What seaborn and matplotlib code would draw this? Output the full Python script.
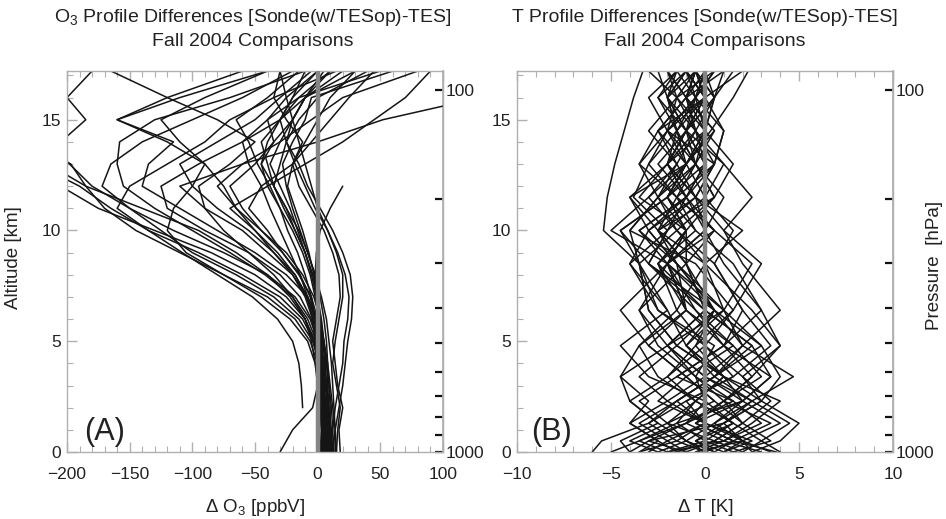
import numpy as np
import pandas as pd
import matplotlib
matplotlib.use("Agg")
import matplotlib.pyplot as plt
import seaborn as sns
from matplotlib.ticker import MultipleLocator, FixedLocator, NullFormatter

nan = np.nan

# ---------------- data: ozone difference profiles (ppbV) ----------------
O3_LEVELS = [0, 1, 2, 3, 4, 5, 6, 7, 8, 9, 10, 11, 12, 13, 14, 15, 16, 17.2]

O3_A1 = [10, 9, 8, 6, 3, -2, -10, -25, -50, -85, -130, -175, -205, nan, nan, nan, nan, nan]
O3_A2 = [6, 7, 5, 4, 2, -3, -12, -30, -60, -95, -135, -165, -190, -225, nan, nan, nan, nan]
O3_A3 = [4, 5, 4, 2, 0, -6, -18, -40, -75, -110, -145, -170, -185, -197, -230, nan, nan, nan]
O3_A4 = [12, 11, 9, 7, 4, 0, -6, -18, -40, -75, -115, -150, -180, -198, -215, nan, nan, nan]
O3_B1 = [5, 6, 5, 3, 1, -4, -15, -35, -65, -100, -125, -150, -172, -165, -140, -100, -60, -20]
O3_B2 = [8, 8, 7, 5, 3, -1, -8, -20, -42, -70, -100, -130, -155, -160, -158, -130, -70, -10]
O3_B3 = [3, 4, 3, 1, -2, -8, -22, -45, -75, -105, -120, -115, -100, -90, -120, -160, -120, -60]
O3_B4 = [15, 14, 12, 10, 8, 5, 0, -8, -25, -50, -80, -110, -140, -135, -115, -160, -110, -40]
O3_B5 = [7, 7, 6, 5, 3, 0, -5, -14, -30, -55, -90, -120, -125, -95, -60, -30, -10, 10]
O3_B6 = [9, 8, 6, 4, 1, -3, -10, -22, -40, -65, -95, -140, -185, -215, -205, -185, -200, -180]
O3_C1 = [9, 9, 8, 7, 5, 2, -2, -8, -18, -35, -55, -80, -100, -110, -80, -50, -30, -5]
O3_C2 = [4, 4, 3, 2, 1, -1, -4, -10, -20, -35, -50, -65, -75, -90, -110, -125, -90, -40]
O3_C3 = [11, 10, 10, 9, 7, 5, 2, -3, -12, -25, -45, -65, -80, -60, -30, -20, -10, 30]
O3_C4 = [2, 3, 2, 0, -2, -5, -10, -20, -35, -55, -75, -90, -95, -70, -50, -80, -120, -165]
O3_C5 = [6, 6, 5, 4, 3, 1, -2, -6, -14, -28, -45, -60, -70, -50, -35, -40, -25, 0]
O3_C6 = [13, 12, 11, 9, 7, 4, 0, -5, -15, -28, -40, -55, -45, -20, -5, 10, 25, 45]
O3_D1 = [5, 6, 6, 5, 4, 3, 1, -2, -6, -12, -20, -30, -40, -45, -35, -20, -10, 20]
O3_D2 = [10, 10, 9, 8, 8, 7, 5, 2, -2, -8, -15, -25, -35, -30, -25, -15, 0, 40]
O3_D3 = [0, 1, 1, 0, -1, -2, -4, -8, -14, -22, -30, -38, -45, -55, -60, -40, -15, 10]
O3_D4 = [14, 14, 13, 12, 11, 9, 7, 3, -2, -8, -14, -20, -25, -28, -20, -10, -5, 60]
O3_D5 = [7, 8, 8, 7, 6, 5, 3, 0, -4, -10, -16, -22, -30, -38, -30, -5, 20, 80]
O3_D6 = [3, 3, 2, 2, 1, 0, -2, -5, -10, -16, -24, -30, -38, -48, -55, -65, -40, -15]
O3_D7 = [9, 9, 8, 7, 6, 4, 2, -1, -5, -10, -18, -27, -35, -40, -45, -30, -20, -10]
O3_D8 = [6, 5, 5, 4, 4, 3, 2, 0, -3, -7, -12, -18, -24, -20, -12, -25, -35, -30]
O3_E1 = [12, 14, 17, 20, 22, 24, 27, 28, 26, 20, 12, 2, -8, -15, -25, -20, -10, 5]
O3_E2 = [10, 12, 14, 17, 20, 21, 24, 25, 22, 16, 8, 0, -5, -10, -15, -20, -25, -30]
O3_E3 = [18, 17, 20, 16, 14, 12, 15, 18, 17, 12, 5, -5, -15, -20, -10, 0, 10, 30]
O3_E4 = [15, 16, 18, 15, 12, 14, 17, 20, 20, 15, 8, -2, -10, -18, -25, -30, -15, 50]
O3_S1 = [6, 7, 6, 5, 4, 2, -1, -8, -20, -40, -60, -90, -110, -60, 0, 52, 130, nan]
O3_S2 = [8, 9, 8, 7, 5, 3, 1, -1, -2, -1, 2, 10, 20, nan, nan, nan, nan, nan]
O3_S3 = [-30, -20, -4, 0, 2, 3, 2, 0, -4, -10, -18, -25, -35, -45, -40, -30, -20, 0]
O3_S4 = [nan, nan, -12, -13, -15, -20, -32, -52, -80, -108, -135, -160, -150, -120, -90, -70, -35, 15]
O3_S5 = [5, 5, 4, 3, 2, 0, -3, -9, -18, -32, -50, -70, -40, -10, 20, 45, 70, 90]

O3_PROFILES = [O3_A1, O3_A2, O3_A3, O3_A4, O3_B1, O3_B2, O3_B3, O3_B4, O3_B5, O3_B6,
               O3_C1, O3_C2, O3_C3, O3_C4, O3_C5, O3_C6, O3_D1, O3_D2, O3_D3, O3_D4,
               O3_D5, O3_D6, O3_D7, O3_D8, O3_E1, O3_E2, O3_E3, O3_E4,
               O3_S1, O3_S2, O3_S3, O3_S4, O3_S5]

# ---------------- data: temperature difference profiles (K) ----------------
T_LEVELS = [0, 0.5, 1.3, 2.3, 3.4, 4.8, 6.4, 8.5, 10.0, 11.5, 13.0, 14.5, 16.0, 17.2]

T_01 = [-1.0, 0.5, 2.0, 1.0, 3.0, 1.5, -1.0, -2.5, -1.0, -2.0, -0.5, -1.5, -0.5, 0.0]
T_02 = [-6.0, -5.5, -3.0, -1.5, 0.5, 2.0, 0.5, -2.0, -3.5, -1.0, -2.0, -1.0, -0.5, -1.0]
T_03 = [2.5, 4.0, 5.0, 3.0, 1.0, -1.0, 0.5, -3.0, -4.5, -2.0, -1.0, 0.0, -1.5, -0.5]
T_04 = [0.5, -1.0, -2.5, -4.0, -4.5, -3.5, -1.0, -2.0, -5.0, -3.0, -1.0, -2.5, -1.0, -2.0]
T_05 = [-4.0, -3.0, 1.0, 2.5, 4.7, 2.0, 1.0, -1.5, -2.5, 0.5, -0.5, -1.0, 0.0, -0.5]
T_06 = [3.5, 2.0, 0.0, -1.0, 1.5, 3.5, 2.0, 0.5, 1.5, 0.0, 1.0, -0.5, 0.5, 1.5]
T_07 = [-2.5, -4.0, -2.0, 0.5, -1.0, -3.0, -4.5, -2.0, -1.0, -3.5, -2.0, -1.0, -2.5, -1.0]
T_08 = [1.0, 2.0, 0.5, 2.5, 0.0, -2.0, 1.0, 2.5, 0.5, -1.0, 0.5, -2.0, -0.5, 0.5]
T_09 = [-3.5, -1.5, 0.0, -2.5, -1.0, 1.5, -0.5, -3.0, -2.0, -3.8, -3.0, -2.0, -3.0, -1.5]
T_10 = [0.0, 1.5, 3.5, 1.0, 2.5, 4.0, 2.5, 0.0, -1.5, 0.5, -0.5, 0.5, -1.0, -0.5]
T_11 = [-1.5, -2.5, -4.0, -3.0, -4.5, -2.0, 0.0, -1.0, 0.5, -1.5, -3.0, -1.5, -2.0, -2.5]
T_12 = [4.0, 3.0, 1.5, 0.0, -0.5, 0.5, -2.5, -4.0, -3.0, -1.0, 0.0, -1.0, 0.5, -0.5]
T_13 = [-5.0, -3.5, -1.0, 1.0, -0.5, -2.5, -3.5, -1.0, -2.5, -0.5, -1.5, -3.0, -1.5, -2.0]
T_14 = [1.5, 0.0, -1.5, 2.0, 3.5, 1.0, 3.0, 1.5, -0.5, -2.0, -1.0, 0.5, -1.0, 0.0]
T_15 = [-2.0, 0.0, 1.5, -0.5, -2.0, 0.0, 1.5, -0.5, -4.0, -2.5, -3.5, -2.0, -0.5, -1.5]
T_16 = [2.0, 3.0, 4.5, 2.5, 0.5, 3.0, 1.0, -2.0, 0.0, 1.0, -0.5, -1.5, -2.0, -1.0]
T_17 = [-3.0, -2.0, -3.5, -1.5, 0.5, -1.0, -2.0, -3.5, -1.5, -2.5, -0.5, 0.0, -1.0, -2.0]
T_18 = [0.5, -0.5, 1.0, 3.0, 2.0, 0.0, -1.5, 0.0, 2.0, -0.5, -2.0, -1.0, 0.5, 0.0]
T_19 = [-1.0, -3.0, -1.0, 0.0, -3.0, -4.5, -2.0, -4.0, -2.0, 0.0, -1.0, -2.0, -1.5, -3.0]
T_20 = [3.0, 1.0, 2.5, 4.0, 1.0, -0.5, 1.5, 3.0, 1.0, -0.5, 0.5, 1.0, 0.0, -0.5]
T_21 = [-4.0, -4.5, -2.5, -4.0, -2.0, -0.5, 0.5, -1.5, -3.0, -4.0, -2.0, -1.5, -2.5, -1.5]
T_22 = [1.0, 2.5, 0.0, -1.5, 0.5, 2.5, 0.0, -2.5, -1.0, -2.0, 0.0, -0.5, -1.0, 1.0]
T_23 = [-0.5, 1.0, 3.0, 1.5, -0.5, -2.0, -3.5, -2.0, 0.0, -1.0, -2.5, -1.0, -2.0, -0.5]
T_24 = [2.0, 0.5, -2.0, -3.5, -1.5, 1.0, 2.0, 0.5, -1.5, -3.0, -1.5, -2.5, 0.0, -1.0]
T_25 = [-2.5, -1.0, 0.5, 2.0, 3.5, 2.5, 0.0, -1.0, -2.5, -1.5, 0.5, -0.5, -1.5, 0.5]
T_26 = [0.0, -1.5, -3.0, -1.0, 1.5, 0.0, -2.5, -3.5, -4.5, -2.0, -1.0, -1.5, 0.0, -1.0]
T_27 = [-1.5, 0.5, 2.0, 3.5, 2.0, 4.0, 3.0, 1.0, 0.0, -0.5, -2.0, -0.5, -1.0, -0.5]
T_28 = [1.5, 3.5, 2.0, 0.5, -1.0, -3.0, -1.0, -1.5, -3.5, -1.0, -2.0, 0.0, -0.5, 0.0]
T_29 = [-3.5, -2.5, -4.0, -2.0, -3.5, -1.5, -3.0, -3.5, -5.4, -5.2, -4.8, -4.3, -3.8, -3.3]
T_30 = [0.5, 1.5, -0.5, 1.0, 2.5, 1.0, -0.5, -2.0, -1.0, 0.5, 1.5, 0.0, 0.5, 1.0]
T_31 = [-1.0, -2.0, 0.0, -2.0, 0.0, -2.0, 0.0, -3.0, -2.0, -1.0, 0.0, -1.0, -2.0, -1.0]
T_32 = [2.5, 2.0, 1.0, 3.0, 4.0, 3.0, 0.5, -1.0, -1.0, -2.5, -1.5, -0.5, -2.0, -1.5]
T_33 = [-2.0, -3.5, -1.5, -0.5, -2.5, -3.5, -1.5, -2.5, -0.5, -1.5, -3.5, -2.5, -1.0, -0.5]
T_34 = [1.0, -0.5, 1.5, -0.5, 1.0, -1.0, 1.0, 0.0, -2.5, -4.0, -1.0, 0.0, 0.5, -0.5]
T_35 = [-0.5, 2.0, 4.0, 2.0, 0.0, 2.0, 4.0, 2.0, 1.0, 2.5, 1.0, -1.0, 0.0, 2.0]
T_36 = [0.0, -1.0, -2.0, -0.5, 1.0, -1.5, -3.0, -3.5, -4.0, -2.5, -1.0, 0.3, 1.5, 2.3]
T_37 = [-2.0, 1.0, -1.0, 1.5, -1.5, 1.0, -1.0, -2.0, 0.5, -1.5, -0.5, -2.0, 0.0, -1.0]
T_38 = [3.8, 1.5, -0.5, 2.0, 1.0, -1.5, 0.5, -1.5, -3.0, -0.5, 0.5, 1.0, -0.5, 0.5]

T_PROFILES = [T_01, T_02, T_03, T_04, T_05, T_06, T_07, T_08, T_09, T_10,
              T_11, T_12, T_13, T_14, T_15, T_16, T_17, T_18, T_19, T_20,
              T_21, T_22, T_23, T_24, T_25, T_26, T_27, T_28, T_29, T_30,
              T_31, T_32, T_33, T_34, T_35, T_36, T_37, T_38]

PRESSURE_MAJOR = [100, 1000]
PRESSURE_MINOR = [200, 300, 400, 500, 600, 700, 800, 900]
SCALE_HEIGHT = 7.1


def long_frame(profiles, levels, name):
    rows = []
    for i, prof in enumerate(profiles):
        for z, v in zip(levels, prof):
            rows.append({"profile": i, "alt": z, name: v})
    return pd.DataFrame(rows).dropna()


o3_df = long_frame(O3_PROFILES, O3_LEVELS, "val")
t_df = long_frame(T_PROFILES, T_LEVELS, "val")

# ---------------- style ----------------
sns.set_theme(style="white")
plt.rcParams["font.family"] = ["Liberation Sans", "DejaVu Sans"]
plt.rcParams["mathtext.fontset"] = "custom"
plt.rcParams["mathtext.rm"] = "Liberation Sans"
plt.rcParams["mathtext.it"] = "Liberation Sans:italic"
plt.rcParams["axes.unicode_minus"] = True

TXT = "#222222"
FRAME = "#b0b0b0"
W, H = 946, 519
fig = plt.figure(figsize=(W / 100, H / 100), dpi=100)

ax1 = fig.add_axes([67 / W, 1 - 452 / H, 376 / W, 381 / H])
ax2 = fig.add_axes([517 / W, 1 - 452 / H, 376 / W, 381 / H])


def z2p(z):
    return 1000.0 * np.exp(-np.asarray(z, dtype=float) / SCALE_HEIGHT)


def p2z(p):
    p = np.clip(np.asarray(p, dtype=float), 1e-6, None)
    return SCALE_HEIGHT * np.log(1000.0 / p)


def style_axes(ax, xlim, xmajor, xminor):
    ax.set_xlim(*xlim)
    ax.set_ylim(0, 17.2)
    ax.xaxis.set_major_locator(MultipleLocator(xmajor))
    ax.xaxis.set_minor_locator(MultipleLocator(xminor))
    ax.yaxis.set_major_locator(MultipleLocator(5))
    ax.yaxis.set_minor_locator(MultipleLocator(1))
    for s in ax.spines.values():
        s.set_color(FRAME)
        s.set_linewidth(1.0)
    ax.tick_params(which="both", direction="in", color=FRAME, top=True, right=False,
                   bottom=True, left=True, labelcolor=TXT, labelsize=12.5)
    ax.tick_params(which="major", length=7, width=1.0)
    ax.tick_params(which="minor", length=4, width=0.8)
    ax.tick_params(axis="x", pad=11)
    ax.tick_params(axis="y", pad=4)
    ax.set_xlabel("")
    ax.set_ylabel("")
    sec = ax.secondary_yaxis("right", functions=(z2p, p2z))
    sec.yaxis.set_major_locator(FixedLocator(PRESSURE_MAJOR))
    sec.yaxis.set_minor_locator(FixedLocator(PRESSURE_MINOR))
    sec.yaxis.set_minor_formatter(NullFormatter())
    sec.set_yticklabels([str(v) for v in PRESSURE_MAJOR])
    sec.tick_params(which="both", direction="in", color="#111111", width=1.6,
                    length=6, labelsize=12.5, labelcolor=TXT, pad=2)
    for s in sec.spines.values():
        s.set_color(FRAME)
    return sec


sns.lineplot(data=o3_df, x="val", y="alt", units="profile", estimator=None,
             sort=False, color="#151515", lw=1.1, legend=False, ax=ax1)
sns.lineplot(data=t_df, x="val", y="alt", units="profile", estimator=None,
             sort=False, color="#151515", lw=1.1, legend=False, ax=ax2)

for ax in (ax1, ax2):
    ax.axvline(0, color="#858585", lw=3.2, zorder=5)

style_axes(ax1, (-200, 100), 50, 10)
style_axes(ax2, (-10, 10), 5, 1)

ax1.text(0.10, 0.052, "(A)", transform=ax1.transAxes, ha="center", va="center",
         fontsize=22, color=TXT, zorder=6)
ax2.text(0.093, 0.052, "(B)", transform=ax2.transAxes, ha="center", va="center",
         fontsize=22, color=TXT, zorder=6)

# titles
fig.text(253 / W, 1 - 18 / H, r"O$_{\mathregular{3}}$ Profile Differences [Sonde(w/TESop)-TES]",
         ha="center", va="center", fontsize=14, color=TXT)
fig.text(253 / W, 1 - 42 / H, "Fall 2004 Comparisons",
         ha="center", va="center", fontsize=14, color=TXT)
fig.text(705 / W, 1 - 18 / H, "T Profile Differences [Sonde(w/TESop)-TES]",
         ha="center", va="center", fontsize=14, color=TXT)
fig.text(705 / W, 1 - 42 / H, "Fall 2004 Comparisons",
         ha="center", va="center", fontsize=14, color=TXT)

# axis labels
fig.text(255 / W, 1 - 508 / H, "\u0394 O$_{\\mathregular{3}}$ [ppbV]",
         ha="center", va="center", fontsize=13.5, color=TXT)
fig.text(706 / W, 1 - 508 / H, "\u0394 T [K]",
         ha="center", va="center", fontsize=13.5, color=TXT)
fig.text(13 / W, 1 - 258 / H, "Altitude [km]", rotation=90,
         ha="center", va="center", fontsize=13.5, color=TXT)
fig.text(934 / W, 1 - 265 / H, "Pressure  [hPa]", rotation=90,
         ha="center", va="center", fontsize=13.5, color=TXT)

fig.savefig("out.png", dpi=100, facecolor="white")
